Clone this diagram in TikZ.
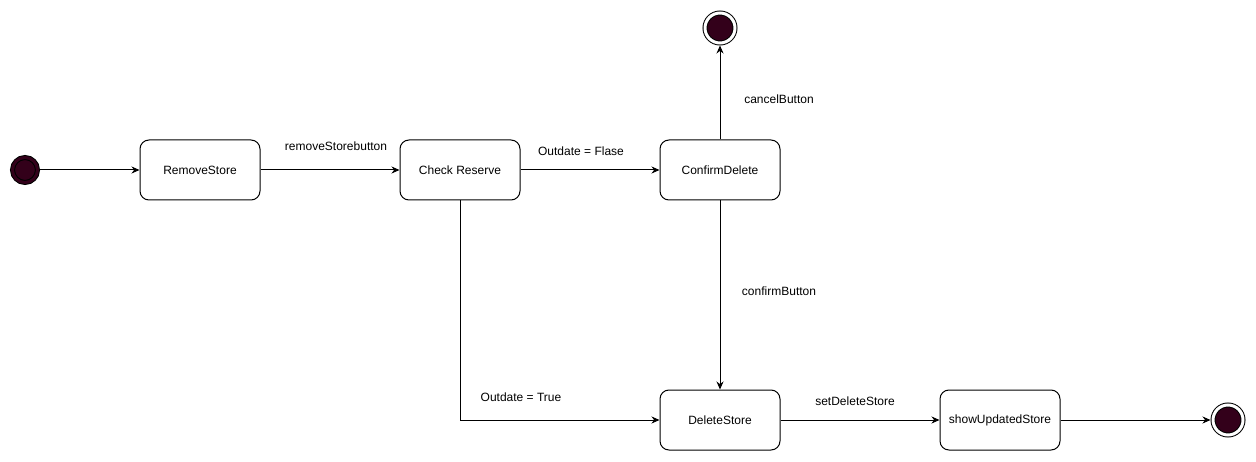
\documentclass[tikz,border=0pt]{standalone}
\usepackage{fontspec}
\setmainfont{Liberation Sans}
\usetikzlibrary{shapes, arrows.meta, positioning, calc}
\definecolor{statefill}{RGB}{51,0,26}

\begin{document}
\begin{tikzpicture} [-> , >= {Stealth[length = 8pt, width = 7pt]}, line width = 1pt, node distance = 260pt, x = 1pt, y = 1pt,
  statebox/.style = {draw, rounded corners = 9pt, minimum width = 120pt, minimum height = 60pt, font = \fontsize{12}{14}\selectfont},
  initial/.style = {draw, circle, fill = statefill, double = statefill, double distance = 3pt, minimum size = 25pt, inner sep = 0pt, outer sep = 2.5pt},
  final/.style = {draw, circle, fill = statefill, double = white, double distance = 3pt, minimum size = 30pt, inner sep = 0pt, outer sep = 2.5pt},
  trigger/.style = {font = \fontsize{12}{14}\selectfont}]

\useasboundingbox (0,0) rectangle (1256,461);

\node [initial] (start) at (25,291) {};
\node [statebox] (remove) [right of = start, node distance = 175pt] {RemoveStore};
\node [statebox] (check) [right of = remove] {Check Reserve};
\node [statebox] (confirm) [right of = check] {ConfirmDelete};
\node [final] (cancelend) [above of = confirm, node distance = 142pt] {};
\node [statebox] (delete) [below of = confirm, node distance = 250pt] {DeleteStore};
\node [statebox] (show) [right of = delete, node distance = 280pt] {showUpdatedStore};
\node [final] (finish) [right of = show, node distance = 228pt] {};

\path (start) edge (remove);
\path (remove) edge (check);
\path (check) edge (confirm);
\path (confirm) edge (cancelend);
\path (confirm) edge (delete);
\draw (check) |- (delete);
\path (delete) edge (show);
\path (show) edge (finish);

\node [trigger] at ($(remove)!0.5!(check) + (6,24)$) {removeStorebutton};
\node [trigger] at ($(check)!0.5!(confirm) + (-9,19)$) {Outdate = Flase};
\node [trigger] at ($(confirm)!0.5!(cancelend) + (59,0)$) {cancelButton};
\node [trigger] at ($(confirm)!0.5!(delete) + (59,4)$) {confirmButton};
\node [trigger] at ($(check |- delete) + (61,23)$) {Outdate = True};
\node [trigger] at ($(delete)!0.5!(show) + (-5,19)$) {setDeleteStore};

\end{tikzpicture}
\end{document}
